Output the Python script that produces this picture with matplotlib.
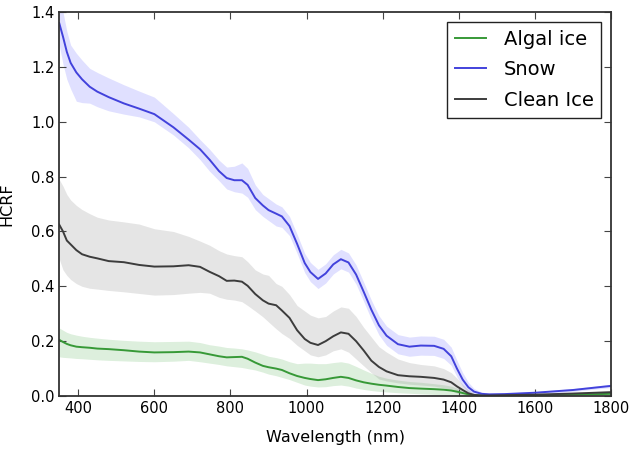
import matplotlib
matplotlib.use('Agg')
import matplotlib.pyplot as plt
import numpy as np

# wavelength grid (nm)
wl = [350, 360, 370, 380, 395, 410, 430, 450,
      480, 520, 560, 600, 650, 690, 720, 745,
      770, 790, 810, 830, 845, 865, 885, 900,
      920, 935, 955, 975, 995, 1010, 1030, 1050,
      1070, 1090, 1110, 1130, 1150, 1170, 1190, 1210,
      1240, 1270, 1300, 1335, 1360, 1380, 1395, 1410,
      1425, 1440, 1460, 1480, 1520, 1600, 1700, 1800]

# Snow: mean, lower and upper edge of the shaded band
snow = [1.36, 1.31, 1.255, 1.215, 1.18, 1.155, 1.128, 1.11,
        1.09, 1.067, 1.048, 1.028, 0.98, 0.935, 0.90, 0.862,
        0.82, 0.795, 0.787, 0.787, 0.77, 0.722, 0.695, 0.678,
        0.665, 0.655, 0.62, 0.555, 0.485, 0.452, 0.427, 0.447,
        0.48, 0.499, 0.487, 0.443, 0.38, 0.315, 0.258, 0.22,
        0.189, 0.18, 0.184, 0.183, 0.172, 0.145, 0.10, 0.06,
        0.032, 0.016, 0.008, 0.006, 0.007, 0.012, 0.022, 0.037]
snow_hi = [1.46, 1.40, 1.33, 1.28, 1.25, 1.225, 1.195, 1.18,
           1.16, 1.135, 1.112, 1.09, 1.03, 0.98, 0.935, 0.90,
           0.86, 0.835, 0.838, 0.85, 0.83, 0.77, 0.735, 0.72,
           0.70, 0.69, 0.655, 0.59, 0.52, 0.487, 0.462, 0.482,
           0.515, 0.535, 0.522, 0.478, 0.415, 0.35, 0.293, 0.255,
           0.224, 0.215, 0.219, 0.218, 0.207, 0.178, 0.13, 0.085,
           0.05, 0.027, 0.014, 0.011, 0.011, 0.016, 0.027, 0.043]
snow_lo = [1.28, 1.21, 1.155, 1.12, 1.075, 1.07, 1.068, 1.055,
           1.04, 1.028, 1.018, 1.0, 0.952, 0.905, 0.862, 0.82,
           0.785, 0.755, 0.745, 0.74, 0.725, 0.68, 0.655, 0.64,
           0.62, 0.615, 0.585, 0.52, 0.45, 0.417, 0.392, 0.412,
           0.445, 0.464, 0.452, 0.408, 0.345, 0.28, 0.223, 0.185,
           0.154, 0.145, 0.149, 0.148, 0.137, 0.112, 0.07, 0.035,
           0.014, 0.005, 0.002, 0.001, 0.002, 0.007, 0.017, 0.031]

# Clean ice
clean = [0.625, 0.60, 0.567, 0.553, 0.532, 0.517, 0.508, 0.502,
         0.492, 0.488, 0.478, 0.472, 0.473, 0.477, 0.471, 0.453,
         0.437, 0.42, 0.421, 0.417, 0.402, 0.372, 0.349, 0.337,
         0.331, 0.312, 0.285, 0.24, 0.208, 0.194, 0.186, 0.20,
         0.218, 0.232, 0.227, 0.20, 0.166, 0.129, 0.106, 0.09,
         0.076, 0.072, 0.07, 0.066, 0.06, 0.05, 0.035, 0.022,
         0.01, 0.004, 0.002, 0.002, 0.003, 0.005, 0.009, 0.014]
clean_hi = [0.79, 0.765, 0.735, 0.715, 0.695, 0.68, 0.665, 0.652,
            0.642, 0.635, 0.627, 0.61, 0.60, 0.582, 0.565, 0.55,
            0.53, 0.518, 0.512, 0.508, 0.49, 0.46, 0.445, 0.44,
            0.41, 0.40, 0.37, 0.33, 0.31, 0.295, 0.285, 0.29,
            0.31, 0.325, 0.32, 0.29, 0.25, 0.215, 0.18, 0.16,
            0.135, 0.122, 0.115, 0.11, 0.10, 0.085, 0.065, 0.042,
            0.022, 0.01, 0.005, 0.005, 0.006, 0.008, 0.013, 0.018]
clean_lo = [0.50, 0.46, 0.44, 0.425, 0.41, 0.40, 0.393, 0.39,
            0.385, 0.38, 0.374, 0.368, 0.37, 0.375, 0.378, 0.375,
            0.36, 0.353, 0.35, 0.344, 0.33, 0.31, 0.289, 0.27,
            0.245, 0.228, 0.21, 0.185, 0.165, 0.15, 0.143, 0.15,
            0.165, 0.172, 0.16, 0.135, 0.11, 0.085, 0.062, 0.055,
            0.048, 0.043, 0.04, 0.036, 0.03, 0.02, 0.01, 0.004,
            0.001, 0.0, 0.0, 0.0, 0.001, 0.002, 0.005, 0.008]

# Algal ice
algal = [0.205, 0.197, 0.19, 0.185, 0.18, 0.178, 0.176, 0.173,
         0.171, 0.167, 0.162, 0.159, 0.16, 0.162, 0.159, 0.152,
         0.145, 0.141, 0.142, 0.143, 0.136, 0.122, 0.11, 0.105,
         0.10, 0.095, 0.083, 0.073, 0.066, 0.062, 0.058, 0.061,
         0.066, 0.07, 0.066, 0.057, 0.05, 0.045, 0.041, 0.038,
         0.033, 0.029, 0.027, 0.025, 0.023, 0.02, 0.016, 0.011,
         0.006, 0.003, 0.002, 0.002, 0.002, 0.003, 0.005, 0.008]
algal_hi = [0.248, 0.24, 0.232, 0.227, 0.222, 0.218, 0.214, 0.211,
            0.207, 0.203, 0.20, 0.198, 0.199, 0.20, 0.195, 0.187,
            0.182, 0.177, 0.175, 0.172, 0.168, 0.161, 0.152, 0.145,
            0.14, 0.135, 0.125, 0.118, 0.12, 0.12, 0.118, 0.118,
            0.122, 0.125, 0.12, 0.108, 0.095, 0.083, 0.072, 0.065,
            0.058, 0.053, 0.05, 0.045, 0.041, 0.036, 0.029, 0.02,
            0.012, 0.006, 0.004, 0.004, 0.004, 0.006, 0.009, 0.012]
algal_lo = [0.143, 0.141, 0.14, 0.139, 0.137, 0.136, 0.134, 0.132,
            0.13, 0.128, 0.126, 0.125, 0.127, 0.13, 0.125, 0.12,
            0.115, 0.11, 0.107, 0.104, 0.10, 0.095, 0.087, 0.08,
            0.074, 0.068, 0.06, 0.05, 0.04, 0.036, 0.033, 0.034,
            0.038, 0.04, 0.036, 0.029, 0.024, 0.02, 0.017, 0.015,
            0.012, 0.01, 0.008, 0.006, 0.005, 0.004, 0.003, 0.002,
            0.001, 0.0, 0.0, 0.0, 0.0, 0.001, 0.002, 0.004]

fig = plt.figure(figsize=(6.3, 4.49), dpi=100)
ax = fig.add_axes([0.094, 0.118, 0.876, 0.855])

ax.fill_between(wl, algal_lo, algal_hi, color='#2ca02c', alpha=0.16, lw=0)
ax.fill_between(wl, snow_lo, snow_hi, color='#4040ff', alpha=0.16, lw=0)
ax.fill_between(wl, clean_lo, clean_hi, color='#8a8a8a', alpha=0.22, lw=0)

ax.plot(wl, algal, color='#379937', lw=1.4, label='Algal ice', solid_joinstyle='round')
ax.plot(wl, snow, color='#4242dc', lw=1.4, label='Snow', solid_joinstyle='round')
ax.plot(wl, clean, color='#3c3c3c', lw=1.4, label='Clean Ice', solid_joinstyle='round')

ax.set_xlim(350, 1800)
ax.set_ylim(0, 1.4)
ax.set_xticks([400, 600, 800, 1000, 1200, 1400, 1600, 1800])
yt = np.arange(0, 1.41, 0.2)
ax.set_yticks(yt)
ax.set_yticklabels(['%.1f' % v for v in yt])
ax.tick_params(direction='in', top=True, right=True, length=5, width=0.8,
               labelsize=10.5, color='#444444')
for s in ax.spines.values():
    s.set_linewidth(1.3)
    s.set_color('#333333')

ax.set_xlabel('Wavelength (nm)', fontsize=11.5, labelpad=10)
ax.set_ylabel('HCRF', fontsize=11.5, labelpad=12)

leg = ax.legend(loc='upper right', fontsize=14, fancybox=False, framealpha=1,
                edgecolor='#222222', borderaxespad=0.5, handlelength=1.6,
                handletextpad=0.9, labelspacing=0.6)
leg.get_frame().set_linewidth(1.0)

fig.savefig('out.png', dpi=100)
